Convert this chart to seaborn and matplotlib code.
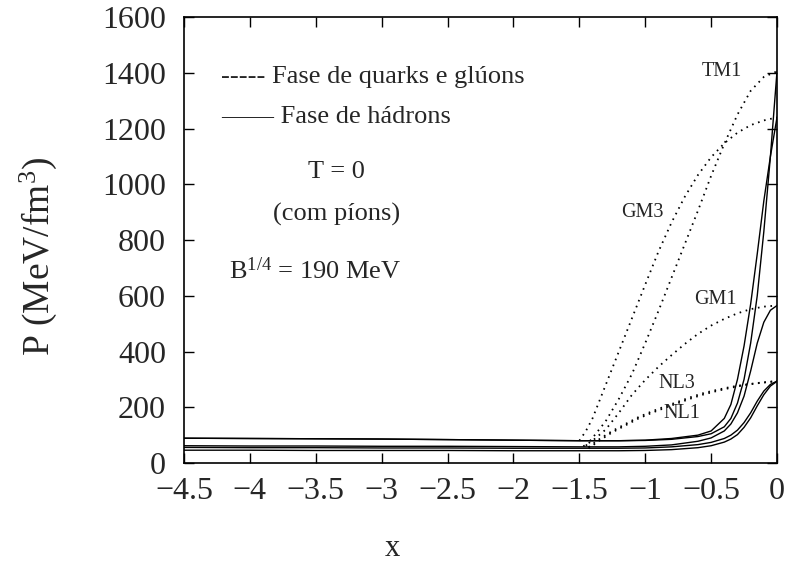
import numpy as np
import pandas as pd
import matplotlib
matplotlib.use("Agg")
import matplotlib.pyplot as plt
import seaborn as sns

# Hadron-phase pressure curves (solid)
x_had = [-4.5, -4.0, -3.5, -3.0, -2.5, -2.0, -1.5, -1.2, -1.0, -0.8, -0.6, -0.5,
         -0.4, -0.35, -0.3, -0.25, -0.2, -0.15, -0.1, -0.05, 0.0]
p_had_tm1 = [89, 88, 87, 86, 84, 82, 80, 80, 81, 85, 95, 105,
             130, 160, 215, 300, 430, 600, 830, 1100, 1405]
p_had_gm3 = [89, 88, 87, 86, 84, 82, 80, 80, 82, 88, 100, 115,
             160, 210, 300, 420, 570, 750, 940, 1100, 1240]
p_had_gm1 = [62, 61, 61, 60, 60, 59, 58, 58, 60, 65, 78, 90,
             115, 140, 180, 240, 330, 430, 505, 548, 565]
p_had_nl3 = [56, 55, 55, 54, 54, 53, 53, 53, 54, 58, 66, 74,
             88, 100, 118, 145, 180, 222, 258, 282, 294]
p_had_nl1 = [46, 46, 45, 45, 45, 44, 44, 44, 45, 48, 55, 62,
             75, 86, 102, 128, 162, 205, 245, 276, 293]

# Quark-gluon phase pressure curves (dotted)
x_qgp_gm3 = [-1.5, -1.45, -1.4, -1.35, -1.3, -1.2, -1.1, -1.0, -0.9, -0.8, -0.7,
             -0.6, -0.5, -0.4, -0.3, -0.2, -0.1, 0.0]
p_qgp_gm3 = [80, 115, 160, 220, 280, 400, 520, 640, 758, 863, 955,
             1033, 1097, 1147, 1185, 1212, 1229, 1240]
x_qgp_tm1 = [-1.45, -1.4, -1.3, -1.2, -1.1, -1.0, -0.9, -0.8, -0.7, -0.6, -0.5,
             -0.4, -0.3, -0.2, -0.1, 0.0]
p_qgp_tm1 = [62, 90, 150, 230, 320, 430, 545, 665, 785, 905, 1030,
             1145, 1250, 1335, 1385, 1405]
x_qgp_gm1 = [-1.47, -1.4, -1.3, -1.2, -1.1, -1.0, -0.9, -0.8, -0.7, -0.6, -0.5,
             -0.4, -0.3, -0.2, -0.1, 0.0]
p_qgp_gm1 = [60, 80, 120, 180, 245, 298, 345, 387, 427, 463, 493,
             517, 537, 552, 561, 565]
x_qgp_nl = [-1.43, -1.35, -1.25, -1.15, -1.05, -0.95, -0.85, -0.75, -0.65, -0.55,
            -0.45, -0.35, -0.25, -0.15, -0.05, 0.0]
p_qgp_nl3 = [57, 85, 115, 140, 165, 185, 203, 220, 237, 252,
             263, 273, 281, 287, 292, 294]
p_qgp_nl1 = [52, 80, 110, 135, 160, 180, 198, 215, 232, 247,
             259, 270, 279, 286, 291, 294]

model_labels = ["TM1", "GM3", "GM1", "NL3", "NL1"]
label_x = [-0.42, -1.02, -0.47, -0.76, -0.72]
label_y = [1405, 900, 585, 286, 178]

x_ticks = [-4.5, -4, -3.5, -3, -2.5, -2, -1.5, -1, -0.5, 0]
x_tick_labels = ["\u22124.5", "\u22124", "\u22123.5", "\u22123", "\u22122.5",
                 "\u22122", "\u22121.5", "\u22121", "\u22120.5", "0"]
y_ticks = [0, 200, 400, 600, 800, 1000, 1200, 1400, 1600]

sns.set_theme(style="ticks")
plt.rcParams["font.family"] = ["Liberation Serif", "DejaVu Serif"]
plt.rcParams["mathtext.fontset"] = "custom"
plt.rcParams["mathtext.rm"] = "Liberation Serif"
plt.rcParams["mathtext.it"] = "Liberation Serif:italic"

fig = plt.figure(figsize=(7.91, 5.65), dpi=100)
ax = fig.add_axes([0.2326, 0.1805, 0.7497, 0.7894])

solid_kw = dict(color="black", linewidth=1.0, ax=ax, legend=False)
for p in [p_had_tm1, p_had_gm3, p_had_gm1, p_had_nl3, p_had_nl1]:
    sns.lineplot(x=x_had, y=p, **solid_kw)

dot_kw = dict(color="black", linewidth=1.3, ax=ax, legend=False)
for xs, p in [(x_qgp_gm3, p_qgp_gm3), (x_qgp_tm1, p_qgp_tm1), (x_qgp_gm1, p_qgp_gm1),
              (x_qgp_nl, p_qgp_nl3), (x_qgp_nl, p_qgp_nl1)]:
    line = sns.lineplot(x=xs, y=p, **dot_kw).lines[-1]
    line.set_linestyle((0, (0.9, 2.6)))

for name, lx, ly in zip(model_labels, label_x, label_y):
    ax.text(lx, ly, name, fontsize=14.5, ha="center", va="center")

ax.text(-4.22, 1385, "----- Fase de quarks e glúons", fontsize=19, va="center", ha="left")
ax.text(-4.22, 1241, "\u2014\u2014 Fase de hádrons", fontsize=19, va="center", ha="left")
ax.text(-3.34, 1044, "T = 0", fontsize=19, va="center", ha="center")
ax.text(-3.34, 890, "(com píons)", fontsize=19, va="center", ha="center")
ax.text(-4.16, 690, "B$^{1/4}$ = 190 MeV", fontsize=19, va="center", ha="left")

ax.set_xlim(-4.5, 0)
ax.set_ylim(0, 1600)
ax.set_xticks(x_ticks)
ax.set_xticklabels(x_tick_labels)
ax.set_yticks(y_ticks)
ax.tick_params(direction="in", length=7, width=1.0, top=True, right=True,
               labelsize=23, color="black")
ax.tick_params(axis="y", pad=13)
ax.tick_params(axis="x", pad=10)

ax.set_xlabel("x", fontsize=22)
ax.xaxis.set_label_coords(0.352, -0.2085)
ax.xaxis.label.set_verticalalignment("baseline")
ax.set_ylabel("P (MeV/fm$^{3}$)", fontsize=27)
ax.yaxis.set_label_coords(-0.21, 0.462)

for s in ax.spines.values():
    s.set_visible(True)
    s.set_linewidth(1.2)
    s.set_color("black")

fig.savefig("out.png", dpi=100)
